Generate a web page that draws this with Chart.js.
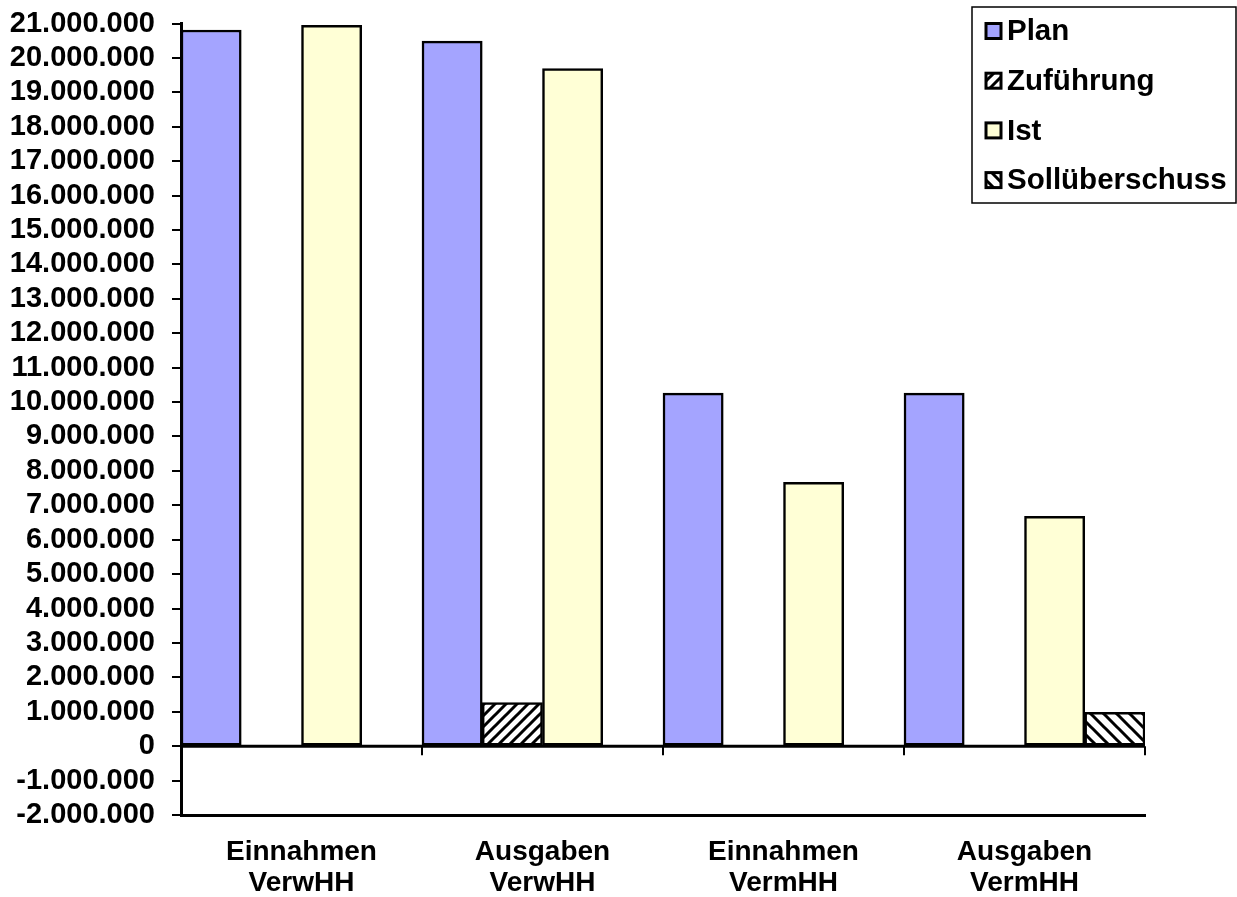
<!DOCTYPE html>
<html>
<head>
<meta charset="utf-8">
<script src="https://cdn.jsdelivr.net/npm/chart.js@4/dist/chart.umd.min.js"></script>
<style>
  html, body { margin: 0; padding: 0; background: #fff; }
  #wrap { width: 1237px; height: 897px; position: relative; }
</style>
</head>
<body>
<div id="wrap"><canvas id="chart"></canvas></div>
<script>
// categories (two-line labels)
const categories = [
  ['Einnahmen', 'VerwHH'],
  ['Ausgaben', 'VerwHH'],
  ['Einnahmen', 'VermHH'],
  ['Ausgaben', 'VermHH']
];
// series values
const planValues = [20810000, 20490000, 10260000, 10260000];
const zufuehrungValues = [0, 1270000, 0, 0];
const istValues = [20950000, 19690000, 7670000, 6680000];
const sollValues = [0, 0, 0, 980000];

const yMin = -2000000;
const yMax = 21000000;
const yStep = 1000000;

const fontFam = 'Arial, "Liberation Sans", sans-serif';

// number with dots as thousand separators
function fmt(v) {
  const s = Math.abs(v).toString().replace(/\B(?=(\d{3})+(?!\d))/g, '.');
  return (v < 0 ? '-' : '') + s;
}

// hatch pattern, dir 1 = "/" and -1 = "\"
function hatch(dir, size) {
  const c = document.createElement('canvas');
  c.width = size; c.height = size;
  const g = c.getContext('2d');
  g.fillStyle = '#fff';
  g.fillRect(0, 0, size, size);
  g.strokeStyle = '#000';
  g.lineWidth = 3;
  g.beginPath();
  if (dir > 0) {
    g.moveTo(-2, size + 2); g.lineTo(size + 2, -2);
    g.moveTo(-2, 2); g.lineTo(2, -2);
    g.moveTo(size - 2, size + 2); g.lineTo(size + 2, size - 2);
  } else {
    g.moveTo(-2, -2); g.lineTo(size + 2, size + 2);
    g.moveTo(size - 2, -2); g.lineTo(size + 2, 2);
    g.moveTo(-2, size - 2); g.lineTo(2, size + 2);
  }
  g.stroke();
  return g.createPattern(c, 'repeat');
}

const ctx = document.getElementById('chart').getContext('2d');
const patZu = hatch(1, 11);
const patSoll = hatch(-1, 13);

// zero line with category ticks
const zeroLine = {
  id: 'zeroLine',
  afterDatasetsDraw(chart) {
    const y = chart.scales.y;
    const c = chart.ctx;
    const y0 = y.getPixelForValue(0);
    c.save();
    c.strokeStyle = '#000';
    c.lineWidth = 3;
    c.beginPath();
    c.moveTo(chart.chartArea.left, y0);
    c.lineTo(chart.chartArea.right, y0);
    c.stroke();
    c.lineWidth = 2;
    const n = categories.length;
    const w = (chart.chartArea.right - chart.chartArea.left) / n;
    c.beginPath();
    for (let i = 0; i <= n; i++) {
      const px = Math.round(chart.chartArea.left + i * w);
      c.moveTo(px, y0);
      c.lineTo(px, y0 + 9);
    }
    c.stroke();
    c.restore();
  }
};

// legend box in the top right corner
const boxLegend = {
  id: 'boxLegend',
  afterDraw(chart) {
    const c = chart.ctx;
    c.save();
    c.strokeStyle = '#000';
    c.lineWidth = 1.5;
    c.strokeRect(972, 7, 264, 196);
    c.font = 'bold 29.5px ' + fontFam;
    c.textBaseline = 'middle';
    chart.data.datasets.forEach((ds, i) => {
      const cy = 31 + i * 49.7;
      c.fillStyle = ds.backgroundColor;
      c.fillRect(986, cy - 7.5, 15, 15);
      c.lineWidth = 3;
      c.strokeRect(986, cy - 7.5, 15, 15);
      c.fillStyle = '#000';
      c.fillText(ds.label, 1007, cy + 1);
    });
    c.restore();
  }
};

new Chart(ctx, {
  type: 'bar',
  data: {
    labels: categories,
    datasets: [
      { label: 'Plan', data: planValues, backgroundColor: '#A4A4FF' },
      { label: 'Zuführung', data: zufuehrungValues, backgroundColor: patZu },
      { label: 'Ist', data: istValues, backgroundColor: '#FFFFD6' },
      { label: 'Sollüberschuss', data: sollValues, backgroundColor: patSoll }
    ].map(d => Object.assign(d, {
      borderColor: '#000',
      borderWidth: 2.5,
      borderSkipped: false,
      categoryPercentage: 1,
      barPercentage: 1
    }))
  },
  options: {
    responsive: true,
    maintainAspectRatio: false,
    animation: false,
    layout: { padding: { top: 23.5, right: 92, left: 0, bottom: 0 } },
    plugins: {
      legend: { display: false },
      tooltip: { enabled: false }
    },
    scales: {
      x: {
        grid: { display: true, drawOnChartArea: false, drawTicks: false },
        border: { display: true, color: '#000', width: 3 },
        ticks: {
          color: '#000',
          padding: 22,
          maxRotation: 0,
          font: { family: fontFam, size: 28, weight: 'bold', lineHeight: 1.1 }
        },
        afterFit(scale) {
          scale.height = 82;
          scale.paddingLeft = 0;
          scale.paddingRight = 0;
        }
      },
      y: {
        min: yMin,
        max: yMax,
        grid: { drawOnChartArea: false, color: '#000', lineWidth: 2, tickLength: 9 },
        border: { display: true, color: '#000', width: 3 },
        ticks: {
          stepSize: yStep,
          color: '#000',
          padding: 17,
          autoSkip: false,
          font: { family: fontFam, size: 29, weight: 'bold' },
          callback: v => fmt(v)
        },
        afterFit(scale) {
          scale.width = 181;
          scale.paddingTop = 0;
          scale.paddingBottom = 0;
        }
      }
    }
  },
  plugins: [zeroLine, boxLegend]
});
</script>
</body>
</html>
